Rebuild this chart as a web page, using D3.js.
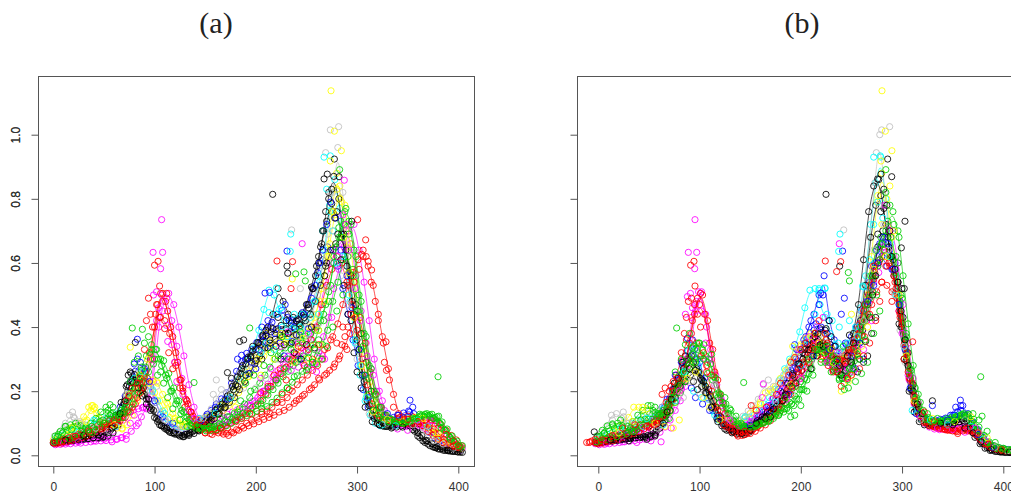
<!DOCTYPE html>
<html><head><meta charset="utf-8">
<script src="https://cdn.jsdelivr.net/npm/d3@7"></script>
<style>html,body{margin:0;padding:0;background:#fff;overflow:hidden}svg{display:block}</style>
</head><body><svg id="c" width="1011" height="496"></svg>
<script>
// values in thousandths, one value every 5 units on x
const aBlue=[45,48,52,55,58,62,66,70,76,82,92,106,124,150,185,228,262,290,262,215,165,128,104,88,80,78,84,90,98,110,122,140,160,176,195,225,262,292,318,330,352,372,395,415,440,452,430,420,425,445,470,520,570,610,650,640,590,520,440,360,280,205,150,122,110,108,112,118,125,132,138,130,112,92,72,56,44,34,26,20,14];
const aCyan=[55,62,68,72,80,85,92,100,112,118,115,120,130,145,170,200,235,255,240,205,170,138,112,96,90,88,92,96,104,112,120,130,146,165,180,205,238,268,300,335,390,455,515,500,455,420,405,395,400,410,440,480,540,640,780,860,770,620,480,350,250,170,125,100,92,92,98,104,108,115,118,112,105,92,78,62,50,38,30,24,18];
const aMagenta=[33,34,35,36,38,38,40,42,44,45,46,48,50,55,62,75,92,120,148,190,420,500,490,420,340,240,170,130,110,105,108,112,118,122,128,135,142,150,158,168,180,200,222,245,265,290,308,320,310,288,270,285,320,370,430,520,580,650,700,720,640,540,420,300,200,140,110,98,95,92,92,90,88,84,78,68,56,42,30,22,16];
const aMagenta2=[36,38,40,42,44,48,50,54,58,60,66,75,90,110,135,140,145,150,175,230,400,480,505,470,400,310,220,150,115,105,100,96,92,95,102,110,120,135,155,170,190,200,215,235,255,270,285,300,320,340,360,400,470,540,600,640,660,700,660,560,450,350,270,200,150,120,105,95,92,90,95,100,108,112,108,100,84,62,44,30,22];
const aYellow=[48,52,56,80,90,100,120,150,145,118,100,90,88,100,130,170,215,245,240,225,195,170,140,118,105,98,96,98,104,112,118,128,140,155,170,190,215,240,260,280,305,340,380,400,385,370,355,350,355,362,380,400,440,520,620,760,880,790,650,500,370,260,185,135,110,100,96,100,105,110,115,118,112,100,85,68,52,40,30,22,16];
const aYellow2=[45,50,60,75,85,95,110,155,130,105,95,90,85,82,95,125,170,200,225,235,225,190,160,130,110,95,90,92,96,102,108,118,128,140,155,170,195,220,245,265,285,310,330,345,355,360,365,375,395,380,400,430,480,560,660,750,840,780,660,540,430,320,230,165,125,105,98,102,106,110,114,118,112,100,85,70,55,42,32,25,20];
const aGray=[60,72,90,125,115,105,95,90,100,108,112,118,125,140,165,195,225,240,225,200,165,135,110,92,84,82,86,92,100,112,125,145,175,205,195,215,235,255,270,285,305,325,350,375,395,390,370,365,375,385,410,440,500,590,690,820,960,820,640,470,340,240,170,125,102,96,92,96,100,104,108,100,82,62,46,34,26,20,16,13,11];
const aBlack1=[38,40,42,44,46,48,50,52,55,54,58,72,90,120,160,215,252,235,190,150,118,95,84,72,66,60,64,70,78,92,104,120,140,150,172,190,220,255,285,305,330,345,372,385,392,405,395,412,420,440,470,525,590,660,730,785,760,690,590,480,360,250,170,125,100,92,90,92,95,100,95,80,60,45,35,26,20,16,14,12,10];
const aBlack2=[40,44,46,48,52,55,58,62,70,72,80,95,125,165,215,255,240,205,175,145,115,92,80,70,66,62,66,72,82,95,110,125,145,160,185,215,245,280,305,325,352,375,400,440,520,480,440,430,425,440,470,520,600,700,820,870,800,690,570,440,330,230,155,115,95,90,92,96,100,102,92,75,55,40,30,24,19,15,13,12,10];
const aBlack3=[42,44,46,48,50,52,52,54,55,56,60,70,95,135,180,225,240,210,175,140,110,90,76,70,64,58,62,68,76,88,100,115,130,148,165,180,205,230,255,285,310,335,350,362,375,380,385,395,405,420,440,480,530,590,640,660,680,640,560,470,380,290,200,140,105,90,85,88,92,96,94,82,62,46,36,28,21,16,13,11,9];
const aRed1=[38,40,44,48,56,62,68,72,78,82,88,94,100,108,118,135,160,195,230,300,440,505,480,400,320,235,175,135,112,100,95,85,78,72,68,72,80,90,100,110,118,128,138,150,165,165,180,200,220,235,250,265,280,300,335,370,410,470,530,570,610,620,590,530,440,350,270,190,130,112,105,100,98,92,88,82,68,50,38,30,26];
const aRed2=[36,38,42,46,50,55,60,68,74,82,88,95,105,118,140,150,180,210,240,300,470,505,450,370,290,210,160,122,102,90,82,75,70,66,62,70,78,85,92,98,105,112,118,125,135,140,150,162,175,190,205,220,235,250,265,285,310,340,380,430,430,350,260,190,150,125,110,104,100,98,96,100,104,110,112,108,95,78,62,48,30];
const aRed3=[40,42,50,55,60,66,72,80,86,95,100,108,112,118,130,150,190,225,260,320,400,430,420,380,290,210,150,110,90,80,70,68,75,85,92,100,110,120,130,145,155,170,190,215,235,255,275,295,315,335,345,360,400,470,530,580,620,600,540,470,390,300,220,160,125,112,108,110,114,118,122,120,108,92,74,62,50,40,33,28,24];
const aGreen1=[60,75,90,95,100,92,85,100,115,135,150,130,125,140,165,195,230,275,310,345,330,280,240,200,170,140,118,100,88,82,84,88,92,96,104,112,120,130,138,150,160,172,188,205,225,245,262,280,300,310,320,345,390,440,510,600,680,720,730,640,500,380,280,200,150,125,115,108,104,102,106,112,122,128,126,118,100,78,56,40,26];
const aGreen2=[58,70,78,85,92,84,78,72,95,110,130,150,125,118,135,160,195,225,260,285,300,295,255,210,170,135,112,96,88,84,86,90,98,108,120,132,145,160,180,205,225,250,275,300,320,335,345,352,360,372,378,390,420,470,530,650,730,770,720,620,480,370,270,190,150,125,112,106,104,104,108,115,125,130,128,120,104,82,60,44,30];
const aGreen3=[42,45,48,52,56,60,66,72,80,88,100,112,118,130,150,180,210,245,275,315,330,300,250,200,160,130,105,92,84,80,76,78,80,86,92,100,108,116,124,130,138,146,152,165,178,195,210,228,248,262,275,290,310,345,390,480,540,610,620,560,450,340,240,170,130,112,105,102,100,100,106,112,118,122,122,115,100,78,58,42,30];

const bBlue=[45,48,52,56,60,64,68,72,78,85,95,108,125,150,175,205,240,280,325,360,300,235,180,140,112,98,88,82,80,84,92,104,120,135,155,178,205,235,260,290,320,360,400,440,500,560,420,360,320,310,330,350,400,470,540,600,660,680,640,600,480,360,240,160,125,115,112,110,112,116,125,150,140,120,100,80,60,40,30,24,20,18,16];
const bBlue2=[48,50,54,58,62,66,72,78,84,92,100,112,125,148,175,205,235,270,305,330,290,240,190,145,115,100,92,88,86,92,100,112,125,138,155,175,200,225,265,300,330,370,420,410,390,345,320,310,320,345,370,400,450,510,590,640,620,590,580,540,420,315,220,155,120,108,102,105,110,115,125,135,155,130,105,80,56,40,30,24,20,18,16];
const bCyan=[55,60,66,72,80,86,92,100,110,118,112,118,128,145,165,195,235,280,325,345,280,225,175,135,110,100,95,100,108,115,118,125,140,160,180,205,235,270,300,335,385,460,515,520,470,430,380,345,330,325,350,390,460,560,720,850,930,800,660,560,430,310,210,145,112,100,96,100,105,112,118,125,128,118,95,72,50,36,28,22,18,16,15];
const bMagenta=[33,34,36,38,40,42,44,46,48,50,55,62,72,88,110,140,170,215,300,470,505,440,330,250,180,130,105,92,88,92,100,108,118,128,140,155,170,190,205,225,245,270,300,320,340,300,270,260,270,290,310,340,390,440,510,590,650,720,700,600,470,350,240,165,120,100,90,86,84,82,82,84,88,88,84,70,50,34,24,18,15,14,14];
const bMagenta2=[36,38,42,46,50,52,56,60,64,70,75,82,96,115,130,150,170,205,270,430,480,510,400,300,220,155,115,95,90,95,105,115,125,140,152,175,190,205,220,245,270,300,345,365,350,320,290,265,255,265,290,320,380,430,480,540,600,650,640,570,450,340,235,160,125,100,88,82,80,80,85,90,92,90,82,68,48,34,26,20,16,15,14];
const bYellow=[48,52,58,75,90,100,118,150,150,125,100,95,100,118,135,165,200,235,270,290,255,220,185,150,120,108,100,102,108,118,130,145,165,195,205,215,240,265,295,320,345,365,380,385,370,345,320,305,305,320,340,375,430,500,620,790,880,800,680,540,420,310,215,150,115,102,98,100,104,110,116,122,125,115,95,72,52,38,28,22,18,16,15];
const bGray=[60,72,90,125,130,115,100,98,105,112,118,128,138,150,165,185,210,235,255,265,245,210,175,145,122,105,98,102,110,122,138,155,175,220,200,215,230,250,270,300,320,345,365,380,375,350,320,300,305,325,350,385,440,530,680,850,1000,820,650,500,390,290,205,150,118,105,98,96,98,102,108,112,115,110,92,68,48,35,26,20,16,14,14];
const bBlack1=[40,42,44,46,48,48,50,52,54,55,55,58,72,95,125,170,205,250,285,310,270,235,195,150,115,92,78,70,66,72,85,98,108,120,135,150,170,195,225,255,285,320,345,365,380,350,315,295,285,300,330,380,470,610,760,840,860,770,650,560,410,300,200,135,105,95,92,94,96,96,98,102,105,98,80,56,36,22,15,12,10,9,9];
const bBlack2=[38,40,42,44,46,50,52,54,56,58,62,78,100,125,160,205,225,270,300,290,260,230,205,170,125,95,80,72,68,64,72,90,104,118,130,145,160,185,215,245,280,315,345,380,395,390,345,300,270,265,300,350,420,530,680,780,810,720,620,510,400,295,205,140,110,100,95,96,100,102,104,110,114,108,88,60,38,24,16,12,10,9,9];
const bBlack3=[42,44,46,48,50,52,54,55,56,58,60,65,85,110,140,180,215,230,250,265,240,215,185,150,120,95,82,74,68,70,78,95,110,122,138,152,168,190,215,240,265,300,335,355,345,325,290,260,240,245,280,325,390,470,560,650,700,680,610,540,430,320,220,150,115,100,94,94,96,98,100,104,108,100,82,58,38,24,16,12,10,9,9];
const bRed1=[38,40,46,52,58,62,68,74,80,88,92,100,108,122,140,175,210,240,300,420,490,500,420,330,235,165,120,95,80,72,75,82,92,102,115,135,150,175,200,225,255,290,330,360,350,330,310,295,290,310,330,360,410,470,530,570,610,620,590,540,440,340,240,170,125,105,94,88,85,80,78,75,78,80,78,68,50,36,26,20,16,15,14];
const bRed2=[36,38,42,46,50,56,62,68,74,82,88,95,108,125,160,200,230,270,350,440,470,440,350,260,190,130,100,85,72,65,68,75,85,95,108,125,140,165,190,215,240,275,310,330,345,360,335,300,285,295,320,340,375,420,470,510,540,530,510,490,410,320,225,160,122,105,92,85,82,78,76,74,76,76,72,62,48,36,26,20,16,15,14];
const bRed3=[40,42,50,58,64,68,74,82,88,95,100,104,112,130,165,215,250,295,360,380,350,310,260,200,150,110,88,74,66,62,68,78,88,100,115,128,145,170,205,240,260,290,320,340,330,310,280,265,270,295,320,350,395,450,500,550,600,640,600,560,450,345,240,165,125,102,92,88,84,82,80,78,80,82,76,66,50,36,26,20,16,14,14];
const bGreen1=[60,78,92,98,100,92,90,105,125,140,155,140,130,140,160,195,225,260,300,340,350,345,300,245,195,160,130,105,92,90,92,94,98,104,112,122,132,145,165,185,205,240,280,330,340,320,295,270,250,255,290,340,400,470,560,640,680,700,680,620,500,380,265,180,135,115,108,105,108,114,118,122,128,125,105,78,55,38,28,22,18,16,15];
const bGreen2=[58,68,76,84,92,86,78,75,95,112,130,150,130,120,138,165,195,230,275,300,310,310,285,240,190,160,140,122,100,90,88,92,100,112,124,135,148,158,160,175,205,235,270,320,345,335,305,275,240,235,270,315,375,440,510,590,660,730,760,700,560,410,280,190,140,118,108,104,106,110,116,122,130,128,112,88,62,42,30,24,20,17,16];
const bGreen3=[42,46,50,54,58,62,68,74,82,90,100,112,120,132,150,180,215,255,290,315,330,330,290,235,180,150,130,110,98,88,88,92,96,100,108,115,125,135,140,155,175,205,255,310,330,320,290,265,235,225,255,295,350,420,490,560,610,640,620,570,470,360,250,175,130,112,105,102,104,108,112,118,124,120,105,80,56,40,28,22,18,16,15];

const scatABlack=[12,48,30,62,47,60,58,85,66,130,71,170,73,220,74,250,76,260,78,230,84,210,88,185,92,160,96,140,103,105,107,92,112,85,119,70,128,58,134,66,143,78,156,108,163,128,170,150,172,258,176,240,178,205,182,215,186,270,184,355,188,360,190,250,192,300,195,310,197,340,200,295,203,350,206,300,207,370,210,390,212,335,214,360,217,395,220,340,222,430,225,300,228,345,230,420,232,380,235,350,238,320,240,375,243,410,245,300,248,430,250,345,252,460,255,400,256,520,258,335,259,560,262,620,264,650,266,700,268,560,269,760,270,600,272,800,275,830,278,740,281,690,284,610,287,530,291,440,294,420,297,320,300,260,304,210,308,150,315,105,322,95,335,88,345,88,360,70,368,45,378,24,390,16];
const scatABlue=[80,285,83,300,90,270,95,230,100,170,108,120,118,100,146,108,152,128,160,150,172,175,182,300,186,312,190,300,193,255,196,290,200,270,203,330,206,400,207,355,210,372,212,420,214,340,215,400,219,380,222,395,224,350,228,310,229,470,233,420,236,355,238,400,243,375,244,300,248,440,252,395,255,490,259,530,263,600,266,640,270,720,274,790,279,740,284,640,290,560,295,460,302,330,307,250,311,180,330,130,340,125,346,118,352,135,355,150];
const scatACyan=[20,80,40,110,62,90,72,170,80,240,88,260,98,200,110,130,144,115,160,130,175,180,190,250,205,320,210,350,213,445,218,330,220,440,225,460,226,400,231,370,236,395,238,440,244,400,246,440,250,380,254,340,254,430,258,480,262,560,262,440,266,700,270,830,273,760,276,700,280,600,286,620,292,500,298,360,303,280,309,180,325,95,338,92,360,110,370,90];
const scatAMagenta=[10,38,25,42,40,45,50,50,58,42,63,50,68,55,72,50,76,100,80,125,84,100,88,148,92,145,97,300,99,500,102,510,104,460,108,450,112,405,113,355,117,345,120,290,122,230,128,190,134,140,139,115,170,110,195,155,205,240,208,200,215,270,220,240,225,340,228,300,232,385,235,265,242,275,242,350,250,325,252,380,258,285,260,260,266,310,268,300,275,430,281,620,286,750,289,720,292,640,298,520,303,420,310,310,316,250,325,170,340,82,350,78,362,95,372,108];
const scatAYellow=[18,85,32,105,37,140,41,150,60,95,68,85,74,190,85,250,93,300,102,230,112,165,120,115,128,90,180,150,192,245,202,300,205,250,214,355,218,300,225,380,228,345,236,550,238,290,240,330,247,365,250,300,255,340,258,295,262,390,264,345,268,480,272,620,276,760,280,830,283,800,287,680,292,570,297,430,305,280,316,135,330,112,345,105,365,115,380,70];
const scatAGray=[12,100,20,120,26,100,42,85,55,75,72,190,84,270,96,200,102,215,110,110,122,75,148,115,158,190,176,190,188,210,200,210,210,240,222,300,232,330,240,350,244,520,252,360,262,410,270,520,274,820,277,700,284,560,290,470,300,300,312,130,330,100,355,95,368,75,376,45,385,35,395,22];
const scatARed=[8,42,22,60,35,75,48,88,60,108,72,170,75,185,78,210,83,225,86,240,90,330,92,420,94,490,96,440,98,400,102,470,106,430,110,395,114,320,118,270,121,280,125,235,128,200,132,170,136,135,142,95,150,70,157,65,165,85,172,85,180,105,186,115,194,130,205,195,206,135,212,215,214,130,218,250,221,165,224,270,226,190,230,235,233,205,236,300,240,170,242,340,246,185,248,280,252,330,255,210,256,300,262,240,262,345,268,330,270,255,274,360,277,275,280,350,282,300,285,345,286,400,288,370,290,330,291,400,294,440,297,540,302,580,306,640,309,620,314,540,318,480,321,420,325,370,327,290,329,265,332,235,336,150,342,118,350,112,360,105,372,100,380,85,388,65,395,45,398,33,401,28];
const scatAGreen=[5,65,12,90,18,80,28,75,38,90,46,105,54,140,56,125,64,115,70,140,76,230,80,290,84,310,87,265,90,350,94,370,97,330,100,300,103,250,106,260,109,225,113,180,118,145,125,110,132,90,145,85,155,90,165,115,172,120,182,135,185,170,190,225,195,200,198,250,205,160,208,280,212,210,215,320,220,235,222,310,226,370,228,270,231,210,232,300,235,330,238,245,240,290,244,385,246,350,250,265,252,305,256,290,258,330,260,285,262,360,265,300,267,420,270,340,272,480,276,400,277,620,280,450,282,710,285,680,286,500,288,760,292,690,296,580,300,450,304,330,308,250,312,190,316,140,322,118,332,105,345,100,355,115,362,128,370,125,375,115,383,85,392,50,400,30];

const scatBBlack=[12,48,30,45,48,50,56,60,64,100,68,135,72,175,75,225,79,240,83,290,86,310,90,270,94,230,98,205,102,215,106,195,112,150,118,105,125,82,133,75,142,68,150,78,156,100,165,115,170,120,173,145,182,170,185,190,192,250,195,225,198,285,202,300,204,330,208,330,210,270,214,370,216,310,219,345,222,340,225,395,228,420,230,370,234,340,236,300,238,280,240,250,244,285,246,310,248,375,250,290,252,350,256,260,258,300,262,290,264,355,266,310,268,430,270,380,271,500,274,560,274,430,276,690,279,760,282,830,285,780,288,700,290,620,293,580,296,540,299,450,300,520,303,360,306,280,311,200,315,160,320,130,330,170,338,100,350,95,362,85,370,70,378,42,388,18,398,12,406,10];
const scatBBlue=[76,250,82,290,88,365,92,210,96,180,103,160,110,140,118,120,150,95,170,140,188,190,194,345,196,330,196,270,204,350,205,300,212,310,213,390,218,470,220,400,222,500,226,380,228,330,233,340,236,290,240,440,243,490,244,350,250,310,254,270,258,350,262,300,266,480,272,530,276,600,281,680,286,660,291,580,297,470,303,330,308,210,314,130,330,155,345,110,352,125,358,155,362,125,375,65,390,25];
const scatBCyan=[22,85,48,115,64,95,76,170,85,260,94,200,102,180,115,125,145,120,175,165,200,280,206,360,214,440,216,400,218,515,224,520,226,440,231,420,237,350,238,400,246,350,248,420,254,400,256,370,262,525,268,610,272,720,276,790,281,740,287,620,294,500,302,340,310,140,328,110,345,95,368,90,380,50];
const scatBMagenta=[8,38,24,42,38,40,52,45,62,42,72,85,80,200,84,300,86,440,88,495,91,505,93,460,96,450,99,510,102,450,106,350,109,300,115,220,122,170,130,110,150,105,162,180,178,190,186,175,198,330,200,240,208,370,215,360,216,400,222,430,226,290,228,300,235,270,236,320,245,240,246,270,252,260,256,340,262,330,270,420,277,570,283,780,288,700,294,580,300,380,306,250,318,120,335,85,350,80,362,72,372,85,382,45];
const scatBYellow=[20,70,34,105,44,150,48,145,56,100,66,90,74,85,80,110,88,240,96,260,104,180,110,150,120,110,160,160,172,195,190,220,192,340,200,340,205,300,210,370,218,350,220,310,230,330,232,290,240,200,242,300,247,230,250,440,250,250,256,320,260,340,266,400,272,580,276,810,280,720,284,620,288,840,292,700,297,500,304,310,312,170,330,115,352,105,368,120,384,55];
const scatBGray=[14,110,25,120,30,100,44,90,58,85,84,180,92,230,100,190,115,220,128,120,150,115,175,175,196,240,210,280,225,350,238,320,248,300,262,420,272,640,277,780,282,720,286,640,292,510,302,340,318,110,345,100,362,110,376,70,392,25,404,14];
const scatBRed=[-8,42,4,48,14,62,24,85,36,95,48,90,58,100,63,190,66,210,70,200,74,230,78,240,82,320,85,380,87,430,89,480,92,490,95,470,98,440,101,400,104,320,107,280,112,250,118,140,124,95,130,85,138,60,145,75,151,155,156,140,166,150,176,190,180,225,188,250,190,290,194,305,198,270,200,330,205,350,208,290,212,330,214,380,218,420,220,300,224,380,226,350,230,310,232,260,236,260,238,300,240,215,244,290,246,240,250,250,252,330,256,310,258,270,262,310,263,370,268,440,268,350,272,590,274,420,278,480,280,540,284,590,290,480,294,520,298,430,302,300,306,260,312,185,322,135,332,105,345,80,355,68,365,85,375,70,385,35,398,18];
const scatBGreen=[6,70,14,95,22,110,32,85,42,110,52,155,60,125,70,115,76,260,82,300,86,345,90,380,93,335,96,290,100,350,104,300,108,255,112,315,116,190,120,165,125,180,130,145,142,95,155,90,168,105,178,125,184,180,186,145,190,120,192,210,194,125,200,155,200,230,206,200,208,300,212,250,216,330,220,290,224,290,226,340,230,260,232,310,236,295,238,240,242,340,243,205,247,210,248,270,252,270,254,230,258,300,260,255,264,360,266,290,270,430,272,380,275,500,278,450,280,660,284,820,288,780,292,720,296,600,300,490,304,370,308,270,313,210,318,165,325,130,335,115,350,110,362,125,370,130,376,110,384,75,392,40,400,22,408,18];

// per-series first x, colour and draw order
const seriesA=[aBlue,aCyan,aMagenta,aMagenta2,aYellow,aYellow2,aGray,aBlack1,aBlack2,aBlack3,aRed1,aRed2,aRed3,aGreen1,aGreen2,aGreen3];
const colorsA=["#0000ff","#00ffff","#ff00ff","#ff00ff","#ffff00","#ffff00","#bebebe","#000000","#000000","#000000","#ff0000","#ff0000","#ff0000","#00cd00","#00cd00","#00cd00"];
const startA=[1,3,2,4,0,3,1,0,2,4,1,3,0,2,4,1];
const seriesB=[bBlue,bBlue2,bCyan,bMagenta,bMagenta2,bYellow,bGray,bBlack1,bBlack2,bBlack3,bRed1,bRed2,bRed3,bGreen1,bGreen2,bGreen3];
const colorsB=["#0000ff","#0000ff","#00ffff","#ff00ff","#ff00ff","#ffff00","#bebebe","#000000","#000000","#000000","#ff0000","#ff0000","#ff0000","#00cd00","#00cd00","#00cd00"];
const startB=[-2,0,-1,1,-3,0,-2,-3,-1,1,-2,0,-3,-1,1,-2];
const scatA=[scatABlue,scatACyan,scatAMagenta,scatAYellow,scatAGray,scatABlack,scatARed,scatAGreen];
const scatB=[scatBBlue,scatBCyan,scatBMagenta,scatBYellow,scatBGray,scatBBlack,scatBRed,scatBGreen];
const scatColors=["#0000ff","#00ffff","#ff00ff","#ffff00","#bebebe","#000000","#ff0000","#00cd00"];
const xStep=5;

// isolated points read individually: x, y, colour
const outA=[[107,.735,"m"],[98.5,.633,"m"],[108,.633,"m"],[100,.593,"r"],[103.5,.605,"r"],[106,.582,"m"],[105,.528,"r"],[112,.505,"r"],[78,.397,"g"],[88,.393,"g"],[83,.362,"b"],[81,.352,"k"],[76,.337,"y"],[139,.227,"g"],[161,.235,"a"],[194,.397,"g"],[19,.135,"a"],[39,.155,"y"],[56,.158,"g"],[274.3,1.137,"y"],[273.6,1.015,"a"],[277.6,1.011,"y"],[281.8,1.025,"a"],[284.5,.95,"y"],[269,.944,"a"],[267.4,.93,"c"],[273.6,.934,"c"],[277.6,.924,"k"],[273.6,.918,"y"],[216.7,.814,"k"],[282.8,.891,"g"],[270.6,.877,"k"],[267.4,.862,"k"],[282.2,.869,"k"],[287.4,.858,"m"],[235.4,.703,"a"],[234.5,.69,"c"],[245.8,.66,"m"],[230.8,.637,"b"],[234,.636,"c"],[220.9,.606,"r"],[236.3,.604,"r"],[230.8,.59,"k"],[231.5,.568,"k"],[239.4,.566,"g"],[247.6,.572,"g"],[248.9,.544,"g"],[234.8,.52,"r"],[220.3,.522,"c"],[209.1,.506,"b"],[213.7,.508,"b"],[300.6,.735,"r"],[294.7,.73,"k"],[308.5,.672,"r"],[304.5,.627,"r"],[311,.605,"r"],[314.4,.578,"r"],[328.6,.354,"r"],[380,.245,"g"],[352.3,.172,"b"],[380.6,.122,"g"]];
const outB=[[95.5,.735,"m"],[88.9,.633,"m"],[97.2,.633,"m"],[91.2,.593,"r"],[94.5,.605,"r"],[95.2,.582,"m"],[95.5,.528,"r"],[101,.505,"r"],[77.4,.397,"g"],[143.6,.227,"g"],[163,.223,"m"],[167.9,.235,"a"],[24.7,.135,"a"],[-11.5,.04,"r"],[-9,.04,"r"],[-6,.045,"r"],[-3,.05,"r"],[-4,.073,"k"],[280.2,1.137,"y"],[279.9,1.015,"a"],[283.5,1.011,"y"],[287.8,1.025,"a"],[290,.95,"y"],[274.6,.944,"a"],[272,.93,"c"],[278.5,.934,"c"],[285.8,.924,"k"],[279.2,.918,"y"],[284,.891,"g"],[289.8,.869,"k"],[279.2,.877,"k"],[275.9,.862,"k"],[224.9,.814,"k"],[242.4,.703,"a"],[238.7,.69,"c"],[238,.66,"m"],[241.3,.637,"b"],[237.4,.636,"c"],[224.2,.606,"r"],[239.4,.604,"r"],[238.4,.59,"k"],[246.9,.57,"g"],[235.4,.573,"r"],[248,.544,"g"],[261,.528,"c"],[218,.52,"c"],[223.9,.522,"c"],[219.7,.506,"b"],[302.9,.73,"k"],[297,.68,"g"],[299.3,.647,"k"],[310.5,.354,"r"],[377.7,.245,"g"],[357.6,.172,"b"],[379,.122,"g"],[302.2,.52,"k"]];
const outColors={k:"#000000",r:"#ff0000",g:"#00cd00",b:"#0000ff",c:"#00ffff",m:"#ff00ff",y:"#ffff00",a:"#bebebe"};

const xTicks=[0,100,200,300,400];
const yTicks=[0,.2,.4,.6,.8,1];

const svg=d3.select("#c");
const yScale=d3.scaleLinear().domain([0,1]).range([455.3,134.7]);

function panel(title,titleX,series,colors,starts,scat,outliers,x0,boxL,boxR){
  const x=d3.scaleLinear().domain([0,400]).range([x0,x0+405]);
  const g=svg.append("g");
  const line=d3.line().x(d=>x(d[0])).y(d=>yScale(d[1])).curve(d3.curveBasis);
  const dots=(sel,pts,col)=>sel.append("g").selectAll("circle").data(pts).join("circle")
      .attr("cx",d=>x(d[0])).attr("cy",d=>yScale(d[1])).attr("r",3.1)
      .attr("fill","none").attr("stroke",col).attr("stroke-width",.85);
  series.forEach((vals,k)=>{
    const pts=vals.map((v,i)=>[starts[k]+i*xStep,v/1000]);
    g.append("path").attr("d",line(pts)).attr("fill","none").attr("stroke",colors[k]).attr("stroke-width",.8).attr("opacity",.85);
    dots(g,pts,colors[k]);
  });
  scat.forEach((flat,k)=>{
    const pts=d3.pairs(flat).filter((_,i)=>i%2===0).map(p=>[p[0],p[1]/1000]);
    dots(g,pts,scatColors[k]);
  });
  g.append("g").selectAll("circle").data(outliers).join("circle")
    .attr("cx",d=>x(d[0])).attr("cy",d=>yScale(d[1])).attr("r",3.1)
    .attr("fill","none").attr("stroke",d=>outColors[d[2]]).attr("stroke-width",.85);
  svg.append("rect").attr("x",boxL).attr("y",76.5).attr("width",boxR-boxL).attr("height",390)
    .attr("fill","none").attr("stroke","#555").attr("stroke-width",1);
  const ax=svg.append("g").attr("transform","translate(0,466.5)")
    .call(d3.axisBottom(x).tickValues(xTicks).tickFormat(d3.format("d")).tickSize(7).tickPadding(9));
  const ay=svg.append("g").attr("transform",`translate(${boxL},0)`)
    .call(d3.axisLeft(yScale).tickValues(yTicks).tickFormat(d3.format(".1f")).tickSize(7));
  [ax,ay].forEach(a=>{
    a.select(".domain").remove();
    a.selectAll("line").attr("stroke","#555");
    a.selectAll("text").attr("font-family","'Liberation Sans',Arial,sans-serif").attr("font-size",12).attr("fill","#333");
  });
  ay.selectAll("text").attr("text-anchor","middle").attr("x",0).attr("dy",0)
    .attr("transform",`translate(${15.5-boxL},0) rotate(-90) translate(0,4)`);
  svg.append("text").text(title).attr("x",titleX).attr("y",33).attr("text-anchor","middle")
    .attr("font-family","'Liberation Serif',serif").attr("font-size",30).attr("fill","#222");
}
panel("(a)",216,seriesA,colorsA,startA,scatA,outA,53.3,38.5,474.5);
panel("(b)",802,seriesB,colorsB,startB,scatB,outB,598.3,577.5,1013.5);
</script></body></html>
